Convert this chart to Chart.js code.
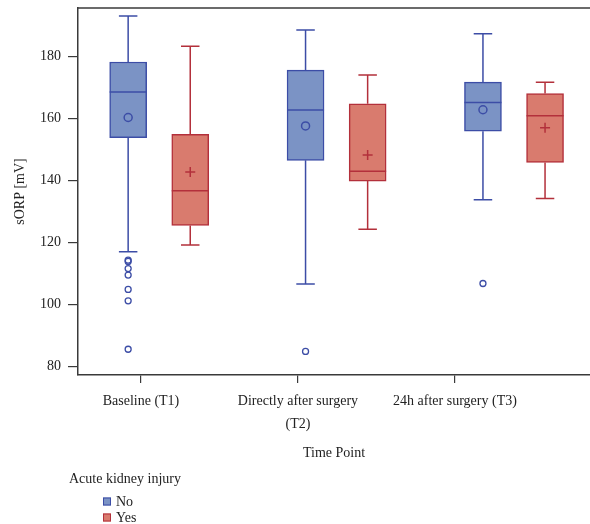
<!DOCTYPE html>
<html>
<head>
<meta charset="utf-8">
<title>sORP by time point</title>
<script src="https://cdn.jsdelivr.net/npm/chart.js@4.4.1/dist/chart.umd.min.js"></script>
<style>
  html, body { margin: 0; padding: 0; background: #fff; overflow: hidden; }
  #chart { display: block; }
</style>
</head>
<body>
<canvas id="chart" width="590" height="524"></canvas>
<script>
// Data
const timePoints = [['Baseline (T1)'], ['Directly after surgery', '(T2)'], ['24h after surgery (T3)']];
const yTicks = [80, 100, 120, 140, 160, 180];

// Acute kidney injury = No
const noMin = [117.0, 106.6, 133.8];
const noQ1 = [153.8, 146.5, 155.9];
const noMedian = [168.5, 162.7, 165.1];
const noQ3 = [178.2, 175.6, 171.7];
const noMax = [193.0, 188.5, 187.3];
const noMean = [160.3, 157.6, 162.8];
const noOutliers = [[114.3, 113.9, 111.6, 109.5, 104.9, 101.2, 85.6], [84.9], [106.8]];

// Acute kidney injury = Yes
const yesMin = [119.2, 124.3, 134.2];
const yesQ1 = [125.5, 139.8, 145.8];
const yesMedian = [136.7, 143.0, 160.9];
const yesQ3 = [154.9, 164.7, 168.0];
const yesMax = [183.3, 174.0, 171.7];
const yesMean = [142.7, 148.2, 157.0];
const yesOutliers = [[], [], []];

// layout
const BOX_OFFSET = 0.175;   // half distance between the two boxes of a group (xb units)
const FONT = "'Liberation Serif', 'Times New Roman', serif";
const TEXT = '#222';
const AXIS = '#3a3a3a';

const colors = {
    noFill: '#7b93c5',
    noLine: '#3c4da6',
    yesFill: '#d97b6e',
    yesLine: '#b3303b'
};

function boxData(q1, q3, off) {
    return q1.map((v, i) => ({ x: i + 1 + off, y: [v, q3[i]] }));
}
function pointData(vals, off) {
    return vals.map((v, i) => ({ x: i + 1 + off, y: v }));
}
function outlierData(list, off) {
    const pts = [];
    list.forEach((arr, i) => arr.forEach(v => pts.push({ x: i + 1 + off, y: v })));
    return pts;
}

function noScalePadding(scale) {
    scale.paddingTop = 0;
    scale.paddingBottom = 0;
    scale.paddingLeft = 0;
    scale.paddingRight = 0;
}

// whiskers, caps and median lines drawn from the bar elements + y scale
const boxExtras = {
    id: 'boxExtras',
    afterDatasetsDraw(chart) {
        const ctx = chart.ctx;
        const y = chart.scales.y;
        chart.data.datasets.forEach((ds, di) => {
            if (!ds.box) return;
            const meta = chart.getDatasetMeta(di);
            ctx.save();
            ctx.strokeStyle = ds.borderColor;
            ctx.lineWidth = 1.5;
            meta.data.forEach((bar, i) => {
                const cx = bar.x;
                const half = bar.width / 2;
                const cap = half / 2;
                const pMin = y.getPixelForValue(ds.box.min[i]);
                const pMax = y.getPixelForValue(ds.box.max[i]);
                const pQ1 = y.getPixelForValue(ds.box.q1[i]);
                const pQ3 = y.getPixelForValue(ds.box.q3[i]);
                const pMed = y.getPixelForValue(ds.box.median[i]);
                ctx.beginPath();
                ctx.moveTo(cx, pQ3); ctx.lineTo(cx, pMax);
                ctx.moveTo(cx - cap, pMax); ctx.lineTo(cx + cap, pMax);
                ctx.moveTo(cx, pQ1); ctx.lineTo(cx, pMin);
                ctx.moveTo(cx - cap, pMin); ctx.lineTo(cx + cap, pMin);
                ctx.moveTo(cx - half, pMed); ctx.lineTo(cx + half, pMed);
                ctx.stroke();
            });
            ctx.restore();
        });
        // top frame line
        const a = chart.chartArea;
        ctx.save();
        ctx.strokeStyle = AXIS;
        ctx.lineWidth = 1.5;
        ctx.beginPath();
        ctx.moveTo(a.left, a.top);
        ctx.lineTo(a.right, a.top);
        ctx.stroke();
        ctx.restore();
    }
};

// legend drawn as a vertical list with a title
const sideLegend = {
    id: 'sideLegend',
    afterDraw(chart) {
        const ctx = chart.ctx;
        ctx.save();
        ctx.font = '14px ' + FONT;
        ctx.fillStyle = TEXT;
        ctx.textBaseline = 'middle';
        ctx.textAlign = 'left';
        ctx.fillText('Acute kidney injury', 69, 479);
        const items = chart.data.datasets.filter(d => d.box);
        items.forEach((d, i) => {
            const cy = 501.5 + i * 16;
            ctx.fillStyle = d.backgroundColor;
            ctx.strokeStyle = d.borderColor;
            ctx.lineWidth = 1;
            ctx.fillRect(103, cy - 4, 8, 8);
            ctx.strokeRect(103.5, cy - 3.5, 7, 7);
            ctx.fillStyle = TEXT;
            ctx.fillText(d.label, 116, cy + 1);
        });
        ctx.restore();
    }
};

const ctx = document.getElementById('chart').getContext('2d');
new Chart(ctx, {
    type: 'bar',
    data: {
        datasets: [
            {
                label: 'No',
                xAxisID: 'xb',
                data: boxData(noQ1, noQ3, -BOX_OFFSET),
                backgroundColor: colors.noFill,
                borderColor: colors.noLine,
                borderWidth: 1.5,
                borderSkipped: false,
                barThickness: 37,
                grouped: false,
                order: 2,
                box: { min: noMin, q1: noQ1, median: noMedian, q3: noQ3, max: noMax }
            },
            {
                label: 'Yes',
                xAxisID: 'xb',
                data: boxData(yesQ1, yesQ3, BOX_OFFSET),
                backgroundColor: colors.yesFill,
                borderColor: colors.yesLine,
                borderWidth: 1.5,
                borderSkipped: false,
                barThickness: 37,
                grouped: false,
                order: 2,
                box: { min: yesMin, q1: yesQ1, median: yesMedian, q3: yesQ3, max: yesMax }
            },
            {
                type: 'scatter',
                label: 'No mean',
                xAxisID: 'xb',
                data: pointData(noMean, -BOX_OFFSET),
                pointStyle: 'circle',
                pointRadius: 4,
                pointBorderWidth: 1.5,
                pointBackgroundColor: 'rgba(0,0,0,0)',
                pointBorderColor: colors.noLine,
                order: 0
            },
            {
                type: 'scatter',
                label: 'Yes mean',
                xAxisID: 'xb',
                data: pointData(yesMean, BOX_OFFSET),
                pointStyle: 'cross',
                pointRadius: 5,
                pointBorderWidth: 1.5,
                pointBorderColor: colors.yesLine,
                order: 0
            },
            {
                type: 'scatter',
                label: 'No outliers',
                xAxisID: 'xb',
                data: outlierData(noOutliers, -BOX_OFFSET),
                pointStyle: 'circle',
                pointRadius: 3,
                pointBorderWidth: 1.3,
                pointBackgroundColor: 'rgba(0,0,0,0)',
                pointBorderColor: colors.noLine,
                order: 0
            },
            {
                type: 'scatter',
                label: 'Yes outliers',
                xAxisID: 'xb',
                data: outlierData(yesOutliers, BOX_OFFSET),
                pointStyle: 'circle',
                pointRadius: 3,
                pointBorderWidth: 1.3,
                pointBackgroundColor: 'rgba(0,0,0,0)',
                pointBorderColor: colors.yesLine,
                order: 0
            }
        ]
    },
    options: {
        responsive: false,
        animation: false,
        layout: { autoPadding: false, padding: { top: 8, right: 0, bottom: 62, left: 0 } },
        plugins: {
            legend: { display: false },
            tooltip: { enabled: false }
        },
        scales: {
            x: {
                type: 'linear',
                position: 'bottom',
                offset: false,
                min: 0.599,
                max: 3.86,
                afterBuildTicks: (scale) => {
                    scale.ticks = timePoints.map((t, i) => ({ value: i + 1 }));
                },
                afterFit: (scale) => { scale.height = 87; noScalePadding(scale); },
                ticks: {
                    autoSkip: false,
                    maxRotation: 0,
                    padding: 6,
                    color: TEXT,
                    font: { family: FONT, size: 14, lineHeight: 1.7 },
                    callback: (value, index) => timePoints[index]
                },
                grid: { offset: false, drawOnChartArea: false, drawTicks: true, tickLength: 8, color: AXIS, lineWidth: 1.2 },
                border: { display: true, color: AXIS, width: 1.5 },
                title: {
                    display: true,
                    text: 'Time Point',
                    color: TEXT,
                    font: { family: FONT, size: 14 },
                    padding: { top: 4, bottom: 0 }
                }
            },
            xb: {
                type: 'linear',
                display: false,
                offset: false,
                grid: { offset: false },
                min: 0.5423,
                max: 3.4284,
                afterFit: noScalePadding
            },
            y: {
                type: 'linear',
                min: 77.3,
                max: 195.6,
                afterBuildTicks: (scale) => {
                    scale.ticks = yTicks.map(v => ({ value: v }));
                },
                afterFit: (scale) => { scale.width = 78; noScalePadding(scale); },
                ticks: {
                    padding: 7,
                    color: TEXT,
                    font: { family: FONT, size: 14 }
                },
                grid: { drawOnChartArea: false, drawTicks: true, tickLength: 10, color: AXIS, lineWidth: 1.2 },
                border: { display: true, color: AXIS, width: 1.5 },
                title: {
                    display: true,
                    text: 'sORP [mV]',
                    color: TEXT,
                    font: { family: FONT, size: 14 },
                    padding: { top: 12, bottom: 0 }
                }
            }
        }
    },
    plugins: [boxExtras, sideLegend]
});
</script>
</body>
</html>
